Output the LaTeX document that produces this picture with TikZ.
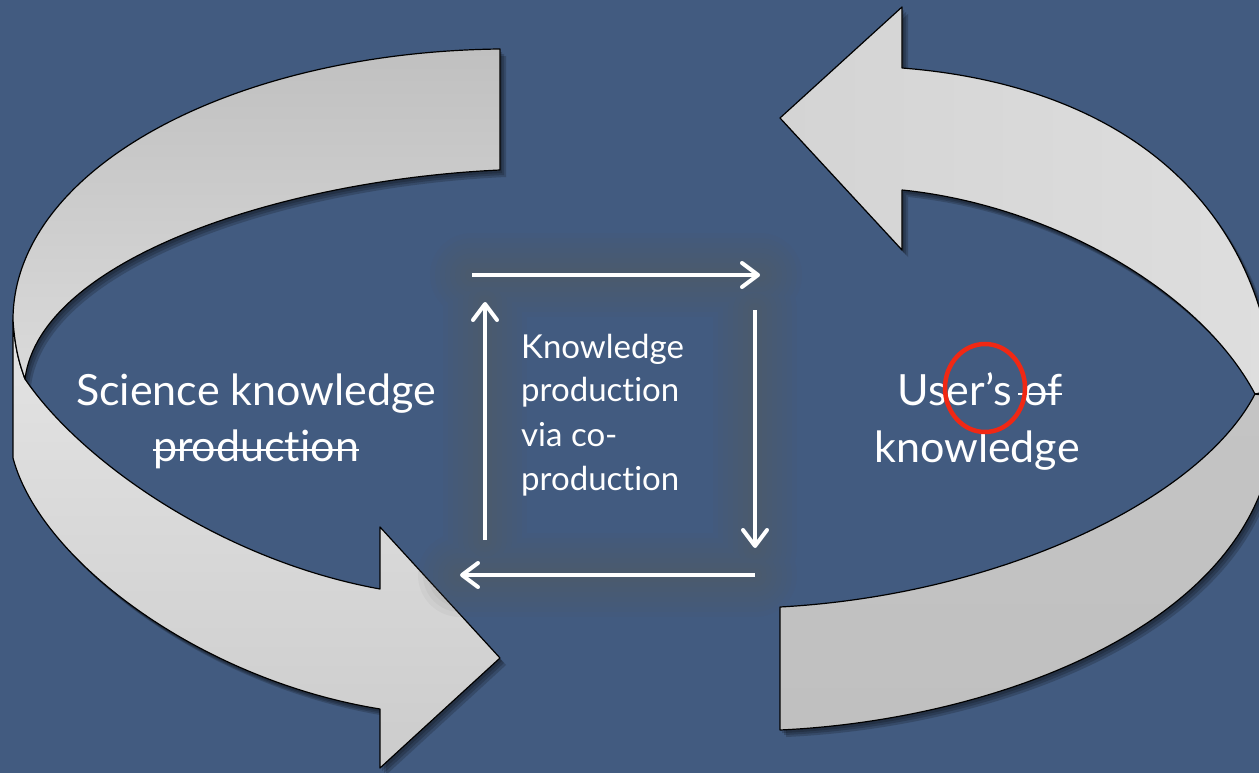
\documentclass[tikz,border=0pt]{standalone}
\usepackage{fontspec}
\setmainfont{Lato}[Ligatures={NoCommon,NoRequired,NoContextual,NoDiscretionary}]
\usetikzlibrary{arrows.meta,shapes.geometric}
\definecolor{bg}{RGB}{66,91,128}
\definecolor{glowc}{RGB}{92,90,88}
\definecolor{redc}{RGB}{240,40,20}
\definecolor{gA}{RGB}{192,192,192}
\definecolor{gB}{RGB}{218,218,218}
\definecolor{gC}{RGB}{228,228,228}
\definecolor{gD}{RGB}{204,204,204}
\definecolor{gE}{RGB}{212,212,212}
\definecolor{gF}{RGB}{222,222,222}
\definecolor{gG}{RGB}{196,196,196}
\newcommand\prodword{produc\kern0pt t\kern0pt ion}
\def\LTop{(500,49) -- (500,170) .. controls (280,180) and (40,260) .. (25,379) .. controls (20,365) and (15,350) .. (13,320) .. controls (13,170) and (230,52) .. (500,49) -- cycle}
\def\LLow{(13,320) -- (13,458) .. controls (40,560) and (200,680) .. (380,709) -- (380,768) -- (500,658) -- (380,527) -- (380,589) .. controls (220,560) and (80,460) .. (25,379) .. controls (20,365) and (15,350) .. (13,320) -- cycle}
\def\RTop{(902,7) -- (902,68) .. controls (1120,85) and (1260,200) .. (1275,390) -- (1255,394) .. controls (1200,290) and (1050,205) .. (902,190) -- (902,250) -- (780,118) -- cycle}
\def\RLow{(780,607) .. controls (1000,595) and (1200,500) .. (1255,394) -- (1280,398) -- (1275,420) .. controls (1270,620) and (1000,720) .. (780,730) -- cycle}
\begin{document}
\begin{tikzpicture}[x=1pt,y=-1pt,
  sidetext/.style={text=white, inner sep=0pt, anchor=base, font=\fontsize{43}{50}\selectfont},
  midtext/.style={text=white, inner sep=0pt, anchor=base west, font=\fontsize{33}{38}\selectfont},
  ribbon/.style={draw=black, line width=1.2pt, line join=round},
  sqarrow/.style={draw=white, line width=4pt, -{Straight Barb[length=16pt,width=24pt,round]}},
  glowline/.style={draw=glowc, line cap=round},
  strike/.style={draw=white, line width=2.4pt},
  shadw/.style={fill=black, opacity=.18}]
\useasboundingbox (0,0) rectangle (1259,773);
\fill[bg] (0,0) rectangle (1259,773);
\clip (0,0) rectangle (1259,773);

% soft shadows of the curved arrows
\foreach \s in {2,4,6}{
\begin{scope}[shift={(\s,\s+1)}]
  \fill[shadw] \LTop \LLow;
  \fill[shadw] \RTop \RLow;
\end{scope}}

% left curved arrow
\path[ribbon, top color=gC, bottom color=gD] \LLow;
\path[ribbon, top color=gA, bottom color=gB] \LTop;
% right curved arrow
\path[ribbon, top color=gG, bottom color=gA] \RLow;
\path[ribbon, left color=gE, right color=gF] \RTop;

% square of arrows
\coordinate (t1) at (472,275); \coordinate (t2) at (760,275);
\coordinate (r1) at (755,310); \coordinate (r2) at (755,548);
\coordinate (b1) at (755,575); \coordinate (b2) at (460,575);
\coordinate (l1) at (485,540); \coordinate (l2) at (485,302);
\foreach \w in {84,74,64,54,44,34,24,14}{
  \draw[glowline, line width=\w pt, opacity=0.055] (t1) -- (t2) (r1) -- (r2) (b1) -- (b2) (l1) -- (l2);
}
\draw[sqarrow] (t1) -- (t2);
\draw[sqarrow] (r1) -- (r2);
\draw[sqarrow] (b1) -- (b2);
\draw[sqarrow] (l1) -- (l2);

% texts
\node[sidetext] (sci1) at (256,405) {Science knowledge};
\node[sidetext] (sci2) at (256,461) {\prodword};
\draw[strike] ([yshift=11pt]sci2.base west) -- ([yshift=11pt]sci2.base east);
\node[sidetext, anchor=base east] (usrA) at (1012,405) {User’s};
\node[sidetext, anchor=base west] (usrB) at ([xshift=11pt]usrA.base east) {of};
\draw[strike] ([xshift=-5pt,yshift=11pt]usrB.base west) -- ([yshift=11pt]usrB.base east);
\node[sidetext] (usr2) at (977,462) {knowledge};
\node[midtext] (k1) at (521,358) {Knowledge};
\node[midtext] (k2) at (521,401) {\prodword};
\node[midtext] (k3) at (521,446) {via co-};
\node[midtext] (k4) at (521,490) {\prodword};

% red ring
\node[draw=redc, line width=4.5pt, ellipse, minimum width=80pt, minimum height=88pt, inner sep=0pt] (ring) at (985,388) {};
\end{tikzpicture}
\end{document}
